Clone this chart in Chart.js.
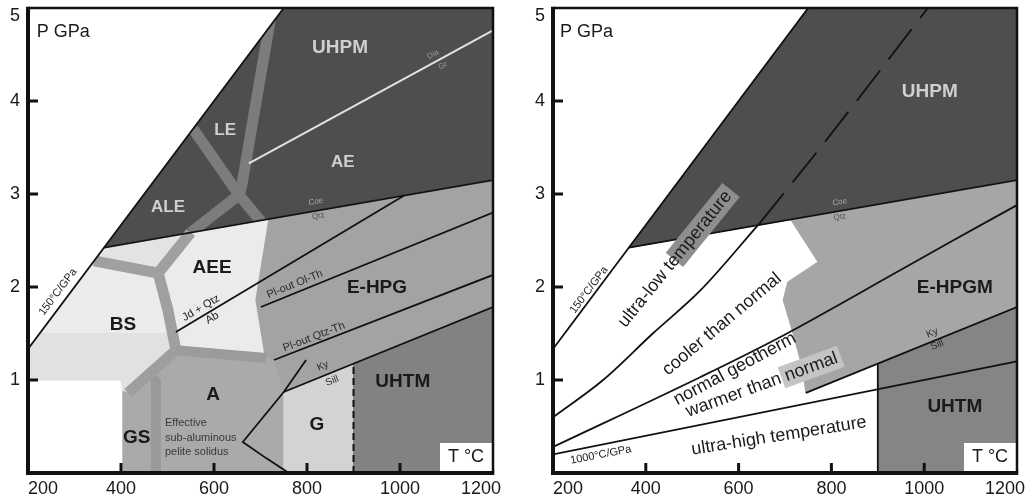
<!DOCTYPE html>
<html>
<head>
<meta charset="utf-8">
<title>P–T fields of metamorphism</title>
<script src="https://cdn.jsdelivr.net/npm/chart.js@4.4.1/dist/chart.umd.min.js"></script>
<style>
  html, body { margin: 0; padding: 0; background: #fff; }
  #wrap { position: relative; width: 1034px; height: 502px; overflow: hidden; }
  canvas { position: absolute; top: 0; }
  #left { left: 0; }
  #right { left: 517px; }
</style>
</head>
<body>
<div id="wrap">
  <canvas id="left" width="517" height="502"></canvas>
  <canvas id="right" width="517" height="502"></canvas>
</div>
<script>
// ---- axes -------------------------------------------------------------
const tempTicks  = [200, 400, 600, 800, 1000, 1200];
const tempLabels = ['200', '400', '600', '800', '1000', '1200'];
const presTicks  = [0, 1, 2, 3, 4, 5];
const presLabels = ['', '1', '2', '3', '4', '5'];

// ---- reference gradients and reaction curves, [T °C, P GPa] ----------
const grad150        = [[200, 1.333], [750, 5.0]];
const grad1000       = [[200, 0.2], [1200, 1.2]];
const coeQtz         = [[363.6, 2.424], [1200, 3.15]];
const diaGr          = [[675, 3.33], [1200, 4.76]];
const jdQtzAb        = [[518, 1.516], [1009, 2.984]];
const plOutOlTh      = [[701, 1.785], [1200, 2.80]];
const plOutQtzTh     = [[729, 1.215], [1200, 2.13]];
const kySill         = [[750, 0.871], [1200, 1.785]];
const kySillRight    = [[745, 0.861], [1200, 1.785]];
const peliteSolidus  = [[798, 1.215], [750, 0.871], [662, 0.333], [712, 0.16], [761, 0]];
const uhtLimit       = [[900, 0], [900, 1.176]];
const coolLimit      = [[200, 0.60], [308, 1.0], [415, 1.5], [517, 1.96], [646, 2.69]];
const coolLimitUHP   = [[646, 2.69], [775, 3.49], [1008, 5.0]];
const normalGeotherm = [[200, 0.28], [517, 1.03], [689, 1.46], [948, 2.18], [1062, 2.50], [1200, 2.88]];

// ---- facies fields (polygons) ------------------------------------------
const uhpmField  = [[363.6, 2.424], [750, 5], [1200, 5], [1200, 3.15]];
const ulField    = [[342, 2.28], [363.6, 2.424], [550, 2.586], [480, 2.15]];
const bsField    = [[200, 1.0], [200, 1.333], [342, 2.28], [480, 2.15], [501, 1.75], [518, 1.32], [415, 0.86], [404, 0.88], [400, 1.0]];
const bsLowField = [[200, 1.0], [200, 1.5], [508, 1.5], [518, 1.32], [415, 0.86], [404, 0.88], [400, 1.0]];
const aeeField   = [[480, 2.15], [550, 2.586], [718, 2.732], [690, 1.86], [710, 1.25], [712, 1.237], [518, 1.32]];
const aField     = [[404, 0], [404, 0.88], [415, 0.86], [518, 1.32], [712, 1.237], [729, 1.215], [750, 0.871], [750, 0]];
const gField     = [[750, 0], [750, 0.871], [900, 1.176], [900, 0]];
const ehpgField  = [[718, 2.732], [1200, 3.15], [1200, 1.785], [750, 0.871], [729, 1.215], [710, 1.25], [690, 1.86]];
const uhtmField  = [[900, 0], [900, 1.176], [1200, 1.785], [1200, 0]];
const ehpgmField = [[712, 2.726], [1200, 3.15], [1200, 1.785], [745, 0.861], [737, 1.14], [717, 1.505], [696, 1.86], [706, 2.054], [771, 2.269]];
const above150   = [[150, 1.0], [780, 5.2], [150, 5.2]];

// ---- facies boundary bands ---------------------------------------------
const bandLE     = [[555, 3.70], [654, 2.99], [710, 2.65]];
const bandAE     = [[727, 5.05], [660, 3.10], [654, 2.99], [550, 2.586]];
const bandBSUp   = [[342, 2.28], [480, 2.15], [550, 2.586]];
const bandBSAEE  = [[480, 2.15], [501, 1.75], [518, 1.32]];
const bandAEEA   = [[518, 1.32], [712, 1.237]];
const bandBSA    = [[518, 1.32], [415, 0.86]];
const bandGSA    = [[475, 0.99], [475, 0]];

// ---- text ------------------------------------------------------------
const LIGHT = '#cfcfcf';
const leftLabels = [
  { t: 'P GPa', at: [219, 4.742], size: 18, align: 'left' },
  { t: 'UHPM', at: [871, 4.57], size: 19, bold: true, color: LIGHT },
  { t: 'AE', at: [877, 3.344], size: 17, bold: true, color: LIGHT },
  { t: 'LE', at: [624, 3.688], size: 17, bold: true, color: LIGHT },
  { t: 'ALE', at: [501, 2.86], size: 17, bold: true, color: LIGHT },
  { t: 'AEE', at: [596, 2.204], size: 19, bold: true },
  { t: 'BS', at: [404, 1.591], size: 19, bold: true },
  { t: 'A', at: [598, 0.839], size: 19, bold: true },
  { t: 'GS', at: [434, 0.376], size: 19, bold: true },
  { t: 'G', at: [821.5, 0.516], size: 19, bold: true },
  { t: 'E-HPG', at: [950.5, 1.989], size: 19, bold: true },
  { t: 'UHTM', at: [1006, 0.978], size: 19, bold: true },
  { t: 'Effective', at: [494.6, 0.538], size: 11, align: 'left', color: '#3a3a3a' },
  { t: 'sub-aluminous', at: [494.6, 0.376], size: 11, align: 'left', color: '#3a3a3a' },
  { t: 'pelite solidus', at: [494.6, 0.226], size: 11, align: 'left', color: '#3a3a3a' },
  { t: '150°C/GPa', at: [264.5, 1.946], size: 11, rot: -53 },
  { t: 'Jd + Qtz', at: [572, 1.774], size: 11, rot: -30.6 },
  { t: 'Ab', at: [596, 1.667], size: 11, rot: -30.6 },
  { t: 'Pl-out Ol-Th', at: [774, 2.03], size: 11, rot: -22, color: '#2a2a2a' },
  { t: 'Pl-out Qtz-Th', at: [815, 1.462], size: 11, rot: -21, color: '#2a2a2a' },
  { t: 'Ky', at: [834, 1.15], size: 10, rot: -22, color: '#2a2a2a' },
  { t: 'Sill', at: [854, 0.99], size: 10, rot: -22, color: '#2a2a2a' },
  { t: 'Coe', at: [819, 2.919], size: 8, rot: -10, color: '#a8a8a8' },
  { t: 'Qtz', at: [824, 2.763], size: 8, rot: -10, color: '#555' },
  { t: 'Dia', at: [1071, 4.50], size: 8, rot: -29, color: '#9a9a9a' },
  { t: 'Gr', at: [1092, 4.38], size: 8, rot: -29, color: '#9a9a9a' }
];
const rightLabels = [
  { t: 'P GPa', at: [215, 4.742], size: 18, align: 'left' },
  { t: 'UHPM', at: [1012, 4.097], size: 19, bold: true, color: LIGHT },
  { t: 'E-HPGM', at: [1066, 1.99], size: 19, bold: true },
  { t: 'UHTM', at: [1066, 0.71], size: 19, bold: true },
  { t: 'Coe', at: [818, 2.914], size: 8, rot: -10, color: '#a8a8a8' },
  { t: 'Qtz', at: [818, 2.753], size: 8, rot: -10, color: '#555' },
  { t: 'Ky', at: [1017, 1.505], size: 10, rot: -22, color: '#2a2a2a' },
  { t: 'Sill', at: [1028, 1.376], size: 10, rot: -22, color: '#2a2a2a' },
  { t: '150°C/GPa', at: [277.6, 1.968], size: 11, rot: -53 },
  { t: '1000°C/GPa', at: [303, 0.194], size: 11, rot: -11 },
  { t: 'ultra-low temperature', at: [463, 2.30], size: 18, rot: -51, box: { part: 'mperature', color: '#8e8e8e' } },
  { t: 'cooler than normal', at: [564, 1.60], size: 18, rot: -40 },
  { t: 'normal geotherm', at: [592, 1.118], size: 18, rot: -28 },
  { t: 'warmer than normal', at: [650, 0.946], size: 18, rot: -20, box: { part: 'normal', color: '#c4c4c4' } },
  { t: 'ultra-high temperature', at: [687, 0.398], size: 18, rot: -9 }
];

// ---- helpers ------------------------------------------------------------
const FONT = '"Liberation Sans", Arial, Helvetica, sans-serif';
const INK = '#1a1a1a';
const xy = pts => pts.map(([x, y]) => ({ x, y }));
const closed = pts => xy(pts.concat([pts[0]]));

function area(pts, color) {
  return { data: closed(pts), fill: 'shape', backgroundColor: color, borderColor: color,
           borderWidth: 1, pointRadius: 0, tension: 0 };
}
function band(pts, color, width) {
  return { data: xy(pts), fill: false, borderColor: color, borderWidth: width,
           borderCapStyle: 'butt', borderJoinStyle: 'round', pointRadius: 0, tension: 0 };
}
function rule(pts, extra) {
  return Object.assign({ data: xy(pts), fill: false, borderColor: '#111', borderWidth: 1.8,
                         pointRadius: 0, tension: 0 }, extra || {});
}
// first dataset in the list is painted first (lowest layer)
const layered = list => list.map((d, i) => Object.assign(d, { order: -i }));

function textLayer(items) {
  return {
    id: 'panelText',
    afterDatasetsDraw(chart) {
      const { ctx, chartArea: a, scales: { x, y } } = chart;
      ctx.save();
      // temperature caption in its white corner box
      ctx.fillStyle = '#fff';
      ctx.fillRect(a.right - 53, a.bottom - 30, 53, 28);
      ctx.fillStyle = INK;
      ctx.font = `18px ${FONT}`;
      ctx.textAlign = 'center';
      ctx.textBaseline = 'middle';
      ctx.fillText('T °C', a.right - 27, a.bottom - 16);

      items.forEach(it => {
        const px = x.getPixelForValue(it.at[0]);
        const py = y.getPixelForValue(it.at[1]);
        ctx.save();
        ctx.translate(px, py);
        ctx.rotate((it.rot || 0) * Math.PI / 180);
        ctx.font = `${it.bold ? 'bold ' : ''}${it.size}px ${FONT}`;
        ctx.textBaseline = 'middle';
        ctx.textAlign = 'left';
        const full = ctx.measureText(it.t).width;
        const x0 = it.align === 'left' ? 0 : -full / 2;
        if (it.box) {
          const k = it.t.indexOf(it.box.part);
          const s = x0 + ctx.measureText(it.t.slice(0, k)).width;
          const w = ctx.measureText(it.box.part).width;
          ctx.fillStyle = it.box.color;
          ctx.fillRect(s - 4, -it.size * 0.62, w + 8, it.size * 1.24);
        }
        ctx.fillStyle = it.color || INK;
        ctx.fillText(it.t, x0, 0);
        ctx.restore();
      });
      ctx.restore();
    }
  };
}

const frameLayer = {
  id: 'panelFrame',
  afterDraw(chart) {
    const { ctx, chartArea: a, scales: { x, y } } = chart;
    ctx.save();
    ctx.strokeStyle = '#111';
    ctx.lineCap = 'butt';
    // inward tick marks
    ctx.lineWidth = 3;
    tempTicks.forEach(v => {
      if (v <= x.min || v >= x.max) return;
      const p = x.getPixelForValue(v);
      ctx.beginPath(); ctx.moveTo(p, a.bottom); ctx.lineTo(p, a.bottom - 10); ctx.stroke();
    });
    presTicks.forEach(v => {
      if (v <= y.min || v >= y.max) return;
      const p = y.getPixelForValue(v);
      ctx.beginPath(); ctx.moveTo(a.left, p); ctx.lineTo(a.left + 10, p); ctx.stroke();
    });
    // frame: light top/right, heavy axes
    ctx.lineWidth = 2.5;
    ctx.beginPath(); ctx.moveTo(a.left, a.top); ctx.lineTo(a.right, a.top); ctx.lineTo(a.right, a.bottom); ctx.stroke();
    ctx.lineWidth = 4;
    ctx.beginPath(); ctx.moveTo(a.left, a.top - 1.25); ctx.lineTo(a.left, a.bottom); ctx.lineTo(a.right + 1.25, a.bottom); ctx.stroke();
    // tick labels
    ctx.fillStyle = INK;
    ctx.font = `18px ${FONT}`;
    ctx.textBaseline = 'middle';
    const last = tempTicks.length - 1;
    tempTicks.forEach((v, i) => {
      const p = x.getPixelForValue(v);
      ctx.textAlign = i === 0 ? 'left' : (i === last ? 'right' : 'center');
      ctx.fillText(tempLabels[i], i === last ? p + 8 : p, a.bottom + 16);
    });
    ctx.textAlign = 'right';
    presTicks.forEach((v, i) => {
      if (!presLabels[i]) return;
      const p = y.getPixelForValue(v);
      ctx.fillText(presLabels[i], a.left - 8, v === y.max ? p + 8 : p);
    });
    ctx.restore();
  }
};

function panel(id, datasets, labels, padding) {
  return new Chart(document.getElementById(id), {
    type: 'line',
    data: { datasets: layered(datasets) },
    options: {
      responsive: false,
      animation: false,
      devicePixelRatio: 1,
      events: [],
      layout: { padding },
      plugins: { legend: { display: false }, tooltip: { enabled: false } },
      scales: {
        x: { type: 'linear', min: 200, max: 1200, display: false },
        y: { type: 'linear', min: 0, max: 5, display: false }
      }
    },
    plugins: [textLayer(labels), frameLayer]
  });
}

// ---- facies grid ---------------------------------------------------------
const DARK = '#4e4e4e', DARK_BAND = '#7c7c7c', MID_BAND = '#a0a0a0';
panel('left', [
  area(uhpmField, DARK),
  band(bandLE, DARK_BAND, 11),
  band(bandAE, DARK_BAND, 11),
  rule(diaGr, { borderColor: '#e2e2e2', borderWidth: 2 }),
  area(ulField, '#e3e3e3'),
  area(bsField, '#ebebeb'),
  area(bsLowField, '#e1e1e1'),
  area(aeeField, '#ebebeb'),
  area(aField, '#aaaaaa'),
  area(gField, '#d3d3d3'),
  area(ehpgField, '#a3a3a3'),
  area(uhtmField, '#828282'),
  band(bandBSUp, MID_BAND, 11),
  band(bandBSAEE, MID_BAND, 11),
  band(bandAEEA, '#9b9b9b', 10),
  band(bandBSA, '#9e9e9e', 11),
  band(bandGSA, '#9a9a9a', 10),
  area(above150, '#ffffff'),
  rule(grad150),
  rule(coeQtz),
  rule(jdQtzAb),
  rule(plOutOlTh),
  rule(plOutQtzTh),
  rule(kySill),
  rule(peliteSolidus),
  rule(uhtLimit, { borderDash: [7, 4], borderWidth: 2 })
], leftLabels, { left: 28, top: 8, right: 24, bottom: 29 });

// ---- thermal regimes -------------------------------------------------------
panel('right', [
  area(uhpmField, DARK),
  area(ehpgmField, '#a6a6a6'),
  area(uhtmField, '#858585'),
  rule(grad150),
  rule(coeQtz),
  rule(coolLimit, { cubicInterpolationMode: 'monotone' }),
  rule(coolLimitUHP, { cubicInterpolationMode: 'monotone', borderDash: [38, 14] }),
  rule(normalGeotherm, { cubicInterpolationMode: 'monotone' }),
  rule(kySillRight),
  rule(grad1000),
  rule(uhtLimit)
], rightLabels, { left: 36, top: 8, right: 17, bottom: 29 });
</script>
</body>
</html>
